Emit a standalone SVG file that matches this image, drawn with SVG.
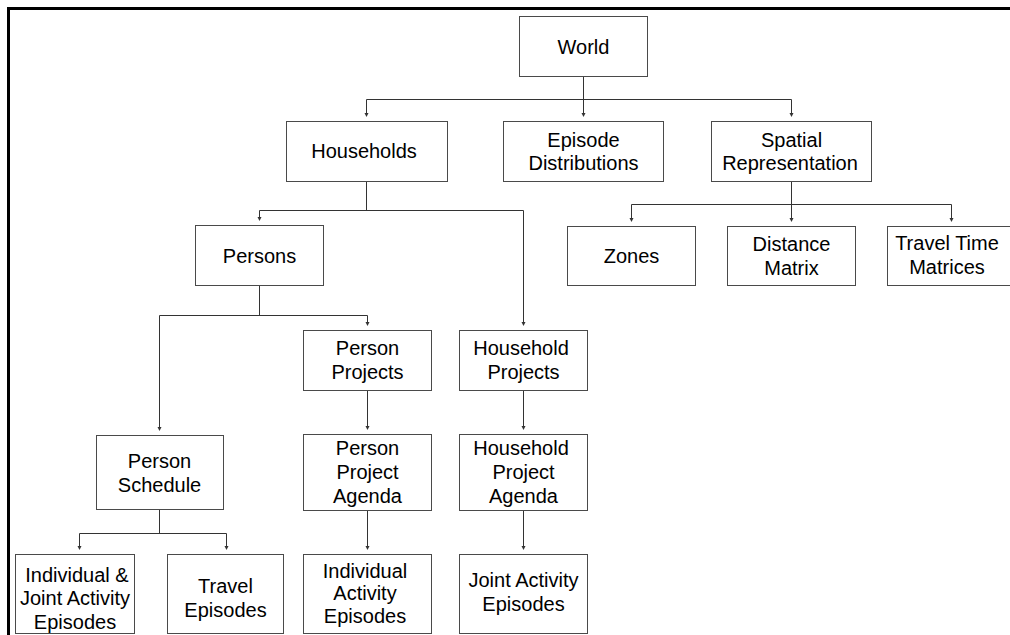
<svg xmlns="http://www.w3.org/2000/svg" width="1010" height="635" viewBox="0 0 1010 635">
  <defs>
    <style>
      .box { fill: #ffffff; stroke: #4a4a4a; stroke-width: 1; }
      .lbl { font-family: "Liberation Sans", Arial, sans-serif; font-size: 20px; fill: #000000; text-anchor: middle; }
      .wire { fill: none; stroke: #333333; stroke-width: 1; }
      .tip { fill: #333333; stroke: none; }
    </style>
    <!-- small downward arrowhead, tip at origin -->
    <path id="ah" d="M-2,-4 L2,-4 L0,0 Z"/>
  </defs>

  <rect width="1010" height="635" fill="#ffffff"/>

  <!-- frame -->
  <path d="M8.5,635 L8.5,8.5 L1010,8.5" fill="none" stroke="#000000" stroke-width="3"/>

  <!-- connectors -->
  <g id="connectors">
    <!-- World -->
    <path class="wire" d="M583.5,76 V99.5 M366.5,99.5 H791.5 M366.5,99.5 V113 M583.5,99.5 V113 M791.5,99.5 V113"/>
    <use href="#ah" class="tip" x="366.5" y="117"/>
    <use href="#ah" class="tip" x="583.5" y="117"/>
    <use href="#ah" class="tip" x="791.5" y="117"/>
    <!-- Households -->
    <path class="wire" d="M366.5,181 V210.5 M259.5,210.5 H523.5 M259.5,210.5 V217 M523.5,210.5 V322"/>
    <use href="#ah" class="tip" x="259.5" y="221"/>
    <use href="#ah" class="tip" x="523.5" y="326"/>
    <!-- Spatial Representation -->
    <path class="wire" d="M791.5,181 V204.5 M631.5,204.5 H951.5 M631.5,204.5 V218 M791.5,204.5 V218 M951.5,204.5 V218"/>
    <use href="#ah" class="tip" x="631.5" y="222"/>
    <use href="#ah" class="tip" x="791.5" y="222"/>
    <use href="#ah" class="tip" x="951.5" y="222"/>
    <!-- Persons -->
    <path class="wire" d="M259.5,285 V315.5 M159.5,315.5 H367.5 M159.5,315.5 V427 M367.5,315.5 V322"/>
    <use href="#ah" class="tip" x="159.5" y="431"/>
    <use href="#ah" class="tip" x="367.5" y="326"/>
    <!-- Projects to agendas -->
    <path class="wire" d="M367.5,390 V426 M523.5,390 V426"/>
    <use href="#ah" class="tip" x="367.5" y="430"/>
    <use href="#ah" class="tip" x="523.5" y="430"/>
    <!-- Person Schedule -->
    <path class="wire" d="M159.5,509 V533.5 M79.5,533.5 H226.5 M79.5,533.5 V546 M226.5,533.5 V546"/>
    <use href="#ah" class="tip" x="79.5" y="550"/>
    <use href="#ah" class="tip" x="226.5" y="550"/>
    <!-- Agendas to episodes -->
    <path class="wire" d="M367.5,510 V546 M523.5,510 V546"/>
    <use href="#ah" class="tip" x="367.5" y="550"/>
    <use href="#ah" class="tip" x="523.5" y="550"/>
  </g>

  <!-- nodes -->
  <g id="world">
    <rect class="box" x="519.5" y="16.5" width="128" height="60"/>
    <text class="lbl" x="583.5" y="54">World</text>
  </g>
  <g id="households">
    <rect class="box" x="286.5" y="121.5" width="161" height="60"/>
    <text class="lbl" x="364" y="158">Households</text>
  </g>
  <g id="episode-distributions">
    <rect class="box" x="503.5" y="121.5" width="160" height="60"/>
    <text class="lbl" x="583.5" y="147">Episode</text>
    <text class="lbl" x="583.5" y="170">Distributions</text>
  </g>
  <g id="spatial-representation">
    <rect class="box" x="711.5" y="121.5" width="160" height="60"/>
    <text class="lbl" x="791.5" y="147">Spatial</text>
    <text class="lbl" x="790" y="170">Representation</text>
  </g>
  <g id="zones">
    <rect class="box" x="567.5" y="226.5" width="128" height="59"/>
    <text class="lbl" x="631.5" y="263">Zones</text>
  </g>
  <g id="distance-matrix">
    <rect class="box" x="727.5" y="226.5" width="128" height="59"/>
    <text class="lbl" x="791.5" y="251">Distance</text>
    <text class="lbl" x="791.5" y="275">Matrix</text>
  </g>
  <g id="travel-time-matrices">
    <rect class="box" x="887.5" y="226.5" width="128" height="59"/>
    <text class="lbl" x="947" y="250">Travel Time</text>
    <text class="lbl" x="947" y="274">Matrices</text>
  </g>
  <g id="persons">
    <rect class="box" x="195.5" y="225.5" width="128" height="60"/>
    <text class="lbl" x="259.5" y="263">Persons</text>
  </g>
  <g id="person-projects">
    <rect class="box" x="303.5" y="330.5" width="128" height="60"/>
    <text class="lbl" x="367.5" y="355">Person</text>
    <text class="lbl" x="367.5" y="379">Projects</text>
  </g>
  <g id="household-projects">
    <rect class="box" x="459.5" y="330.5" width="128" height="60"/>
    <text class="lbl" x="521" y="355">Household</text>
    <text class="lbl" x="523.5" y="379">Projects</text>
  </g>
  <g id="person-schedule">
    <rect class="box" x="96.5" y="435.5" width="127" height="74"/>
    <text class="lbl" x="159.5" y="468">Person</text>
    <text class="lbl" x="159.5" y="492">Schedule</text>
  </g>
  <g id="person-project-agenda">
    <rect class="box" x="303.5" y="434.5" width="128" height="76"/>
    <text class="lbl" x="367.5" y="455">Person</text>
    <text class="lbl" x="367.5" y="479">Project</text>
    <text class="lbl" x="367.5" y="503">Agenda</text>
  </g>
  <g id="household-project-agenda">
    <rect class="box" x="459.5" y="434.5" width="128" height="76"/>
    <text class="lbl" x="521" y="455">Household</text>
    <text class="lbl" x="523.5" y="479">Project</text>
    <text class="lbl" x="523.5" y="503">Agenda</text>
  </g>
  <g id="individual-joint-activity-episodes">
    <rect class="box" x="15.5" y="554.5" width="119" height="79"/>
    <text class="lbl" x="77" y="582">Individual &amp;</text>
    <text class="lbl" x="75" y="605">Joint Activity</text>
    <text class="lbl" x="75" y="629">Episodes</text>
  </g>
  <g id="travel-episodes">
    <rect class="box" x="167.5" y="554.5" width="116" height="79"/>
    <text class="lbl" x="225.5" y="593">Travel</text>
    <text class="lbl" x="225.5" y="617">Episodes</text>
  </g>
  <g id="individual-activity-episodes">
    <rect class="box" x="303.5" y="554.5" width="128" height="79"/>
    <text class="lbl" x="365" y="578">Individual</text>
    <text class="lbl" x="365" y="600">Activity</text>
    <text class="lbl" x="365" y="623">Episodes</text>
  </g>
  <g id="joint-activity-episodes">
    <rect class="box" x="459.5" y="554.5" width="128" height="79"/>
    <text class="lbl" x="523.5" y="587">Joint Activity</text>
    <text class="lbl" x="523.5" y="611">Episodes</text>
  </g>
</svg>
